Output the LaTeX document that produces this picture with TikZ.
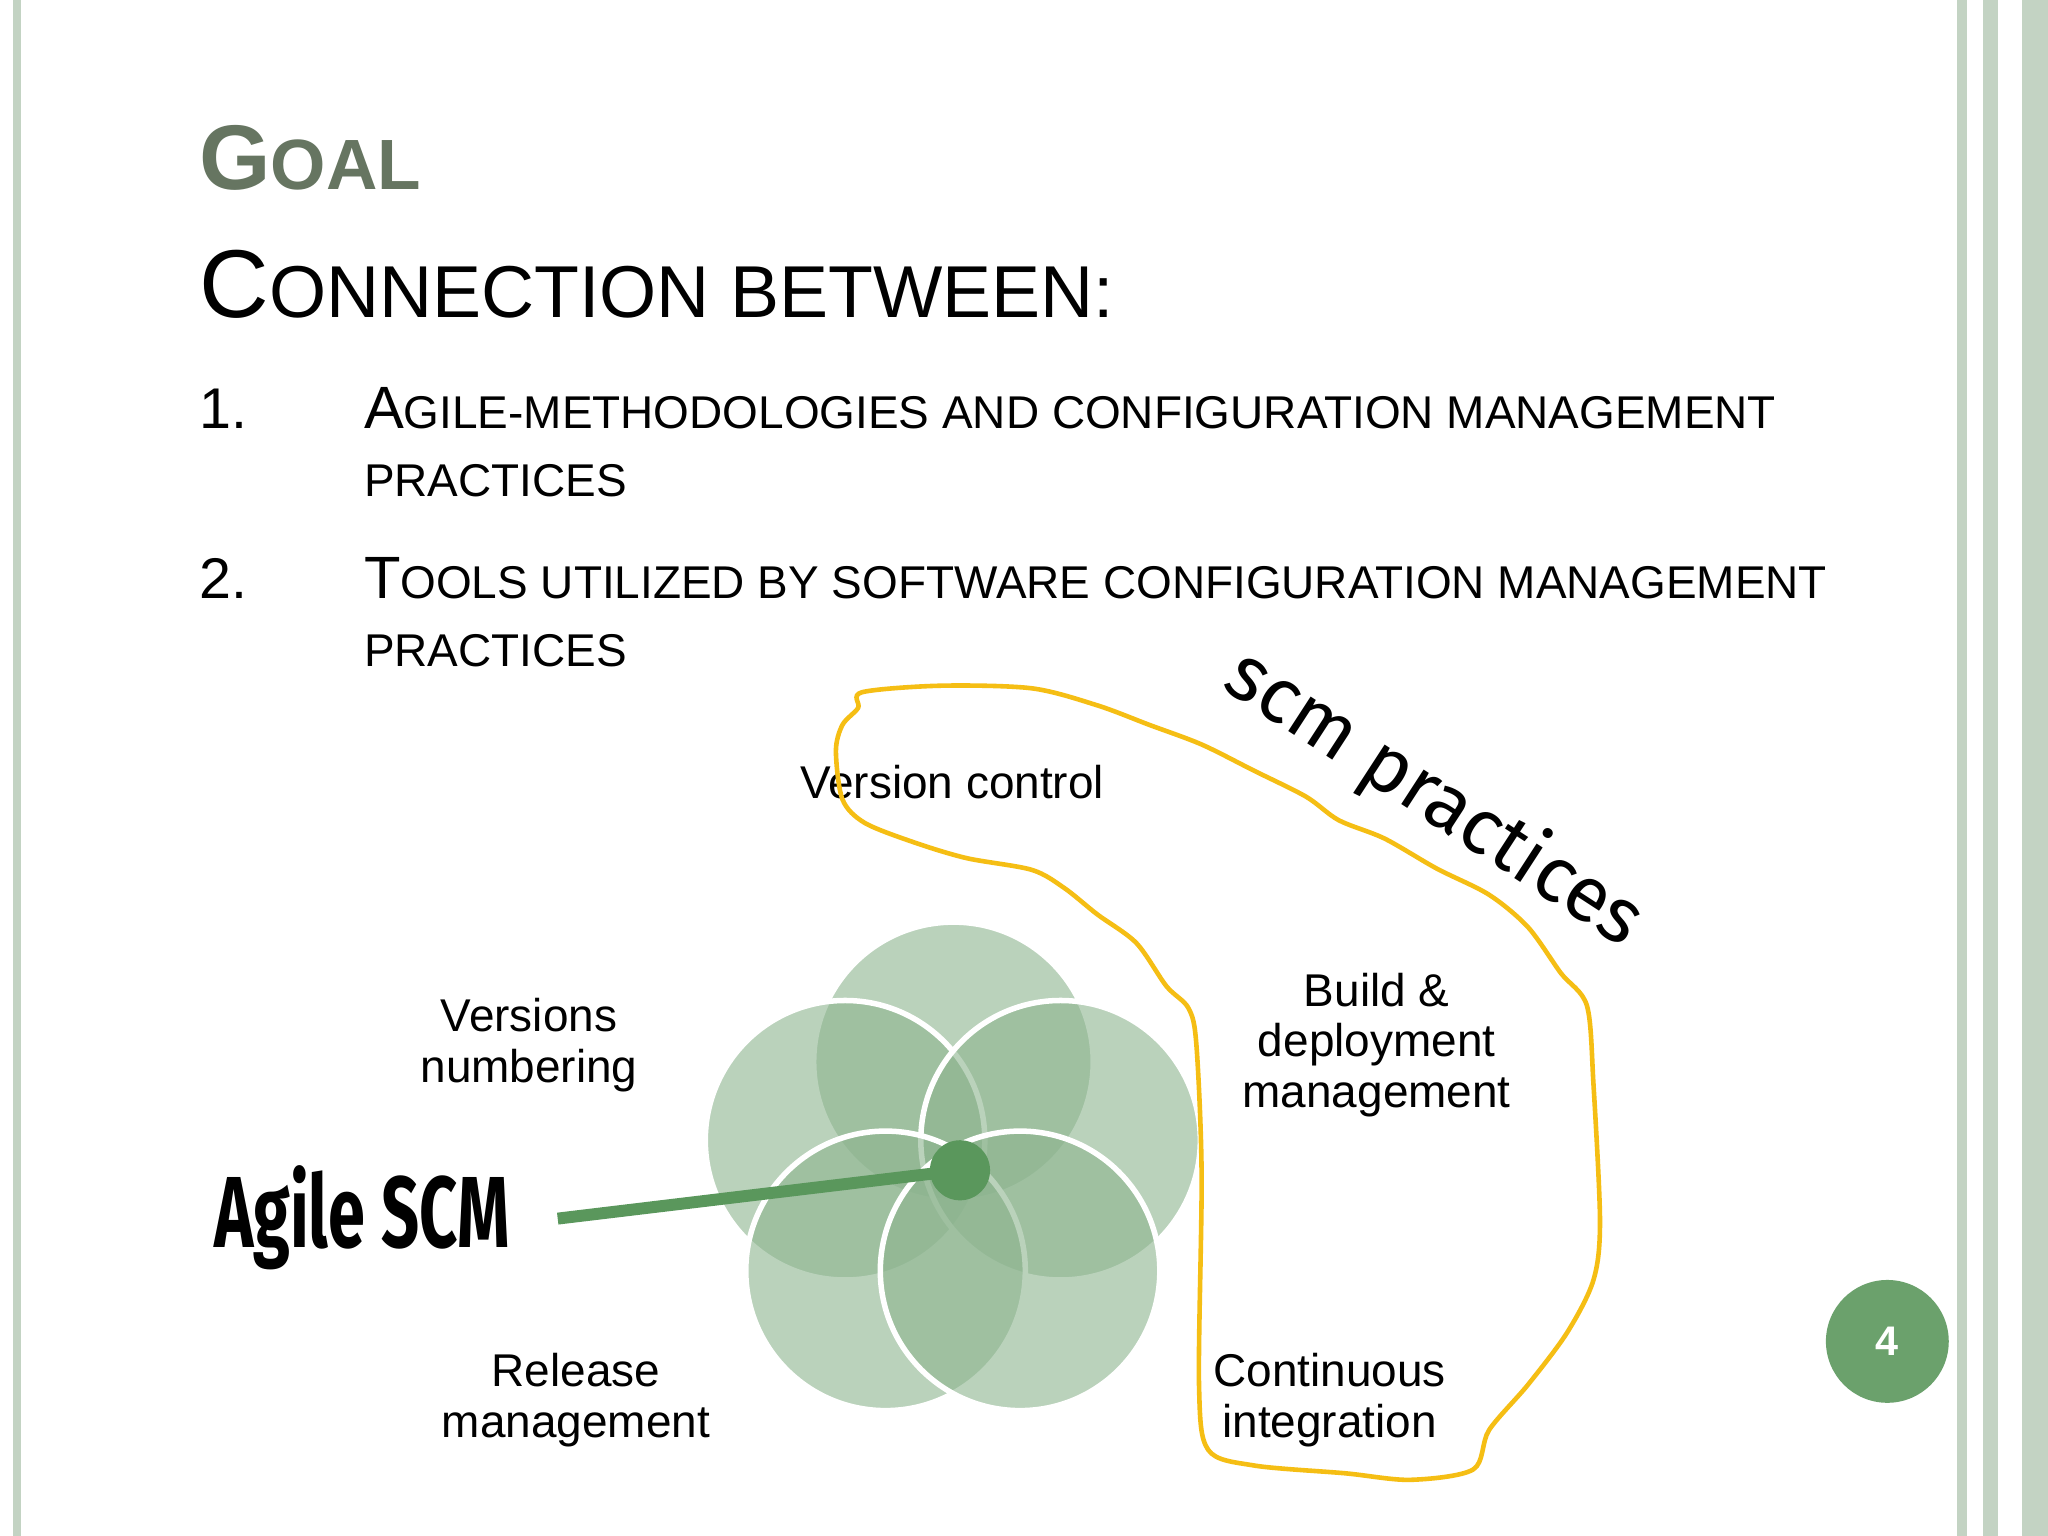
\documentclass[tikz,border=0pt]{standalone}
\usepackage{fontspec}
\setmainfont{Liberation Sans}
\newfontfamily\fira{Fira Sans}
\definecolor{titlegreen}{HTML}{667561}
\definecolor{circgreen}{HTML}{8DB48F}
\definecolor{dotgreen}{HTML}{5A975C}
\definecolor{bordergreen}{HTML}{C3D3C3}
\definecolor{loopyellow}{HTML}{F5BE14}
\tikzset{petal/.style={fill=circgreen,fill opacity=0.6,draw=white,draw opacity=1,line width=1.2pt},
lbl/.style={font=\fontsize{10}{11}\selectfont,align=center,inner sep=0pt}}
\newcommand{\mysz}[2]{{\fontsize{#1}{#1}\selectfont #2}}
\begin{document}
\begin{tikzpicture}[x=0.01cm,y=-0.01cm]
\fill[white] (0,0) rectangle (1568,1176);
\useasboundingbox (0,0) rectangle (1568,1176);
% borders
\fill[bordergreen] (10,0) rectangle (16,1176);
\fill[bordergreen] (1498,0) rectangle (1506,1176);
\fill[bordergreen] (1518,0) rectangle (1530,1176);
\fill[bordergreen] (1548,0) rectangle (1568,1176);
% title
\node[anchor=base west,inner sep=0pt,text=titlegreen,font=\bfseries] (goal) at (152,145) {\mysz{20}{G}\mysz{15.5}{OAL}};
\node[anchor=base west,inner sep=0pt] (conn) at (152,243) {\mysz{21}{C}\mysz{16}{ONNECTION BETWEEN:}};
\node[anchor=base west,inner sep=0pt] (n1) at (152,328) {\mysz{12.5}{1.}};
\node[anchor=base west,inner sep=0pt] (t1) at (278,328) {\mysz{13}{A}\mysz{10}{GILE-METHODOLOGIES AND CONFIGURATION MANAGEMENT}};
\node[anchor=base west,inner sep=0pt] (t1b) at (278,380) {\mysz{10}{PRACTICES}};
\node[anchor=base west,inner sep=0pt] (n2) at (152,458) {\mysz{12.5}{2.}};
\node[anchor=base west,inner sep=0pt] (t2) at (278,458) {\mysz{13}{T}\mysz{10}{OOLS UTILIZED BY SOFTWARE CONFIGURATION MANAGEMENT}};
\node[anchor=base west,inner sep=0pt] (t2b) at (278,510) {\mysz{10}{PRACTICES}};
% petals
\path[petal] (730,813) circle (107);
\path[petal] (647,873) circle (107);
\path[petal] (812,873) circle (107);
\path[petal] (678,973) circle (107);
\path[petal] (781,973) circle (107);
% labels
\node[lbl] (vc) at (729,599) {Version control};
\node[lbl] (vn) at (405,800) {Versions\\numbering};
\node[lbl] (bd) at (1054,800) {Build \&\\deployment\\management};
\node[lbl] (rm) at (441,1072) {Release\\management};
\node[lbl] (ci) at (1018,1072) {Continuous\\integration};
% agile scm
\node[inner sep=0pt,font=\fira\bfseries\fontsize{22}{22}\selectfont,xscale=0.66] (ascm) at (277,932) {Agile SCM};
\node[circle,fill=dotgreen,minimum size=0.46cm,inner sep=0pt] (dot) at (735,896) {};
\coordinate (lstart) at (427,933);
\draw[dotgreen,line width=2.6pt] (lstart) -- (dot.center);
% loop
\draw[loopyellow,line width=1pt] plot[smooth cycle,tension=0.5] coordinates {
(660,530) (720,525) (790,527) (840,540) (880,555) (920,570) (960,590) (1000,610) (1025,628) (1060,642) (1100,665) (1140,685) (1170,710) (1195,745) (1215,770) (1220,830) (1225,935) (1220,980) (1200,1020) (1170,1060) (1140,1095) (1128,1125) (1080,1133) (1030,1128) (960,1122) (925,1110) (918,1060) (920,900) (916,800) (910,772) (893,755) (870,722) (840,700) (815,680) (790,666) (740,657) (700,645) (662,630) (645,612) (640,575) (645,555) (657,542)};
\node[inner sep=0pt,rotate=-33,font=\fira\fontsize{17}{17}\selectfont] (scm) at (1098,612) {scm practices};
% page number
\node[circle,fill=dotgreen!90,minimum size=0.94cm,inner sep=0pt,text=white,font=\bfseries\fontsize{9}{9}\selectfont] (pg) at (1445,1027) {4};
\end{tikzpicture}
\end{document}
